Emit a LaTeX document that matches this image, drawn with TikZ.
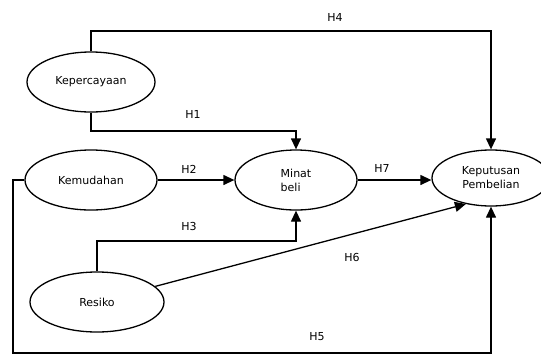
\documentclass[tikz,border=0pt]{standalone}
\usepackage{fontspec}
\setmainfont{DejaVu Sans}
\usetikzlibrary{shapes.geometric,arrows.meta}
\begin{document}
\begin{tikzpicture}[x=1pt,y=-1pt,
  var/.style={draw,ellipse,line width=1.3pt,inner sep=0pt,minimum height=60pt,font=\fontsize{11}{14}\selectfont},
  conn/.style={line width=1.3pt},
  arr/.style={conn,-{Triangle[length=11pt,width=10pt]}},
  lab/.style={font=\fontsize{11}{13}\selectfont,inner sep=0pt}]
\clip (0,0) rectangle (541,354);
\useasboundingbox (0,0) rectangle (541,354);
\node[var,minimum width=128pt] (Kp) at (91,82) {Kepercayaan};
\node[var,minimum width=132pt] (Km) at (91,180) {Kemudahan};
\node[var,minimum width=134pt] (R) at (97,302) {Resiko};
\node[var,minimum width=122pt,align=left] (M) at (296,180) {Minat\\beli};
\node[var,minimum width=118pt,minimum height=56pt,align=center] (K) at (491,178) {Keputusan\\Pembelian};
\coordinate (c4) at (300,31);
\coordinate (c1) at (200,131);
\coordinate (c3) at (200,241);
\coordinate (c5) at (13,353);
\draw[arr] (Kp.north) |- (c4) -| (K.north);
\draw[arr] (Kp.south) |- (c1) -| (M.north);
\draw[arr] (Km.east) -- (M.west);
\draw[arr] (M.east) -- (M.east -| K.west);
\draw[arr] (R.north) |- (c3) -| (M.south);
\draw[arr] (R.15) -- (K.226);
\draw[arr] (Km.west) -| (c5) -| (K.south);
\node[lab] (h4) at (335,17) {H4};
\node[lab] (h1) at (193,114) {H1};
\node[lab] (h2) at (189,169) {H2};
\node[lab] (h7) at (382,168) {H7};
\node[lab] (h3) at (189,226) {H3};
\node[lab] (h6) at (352,257) {H6};
\node[lab] (h5) at (317,337) {H5};
\end{tikzpicture}
\end{document}
